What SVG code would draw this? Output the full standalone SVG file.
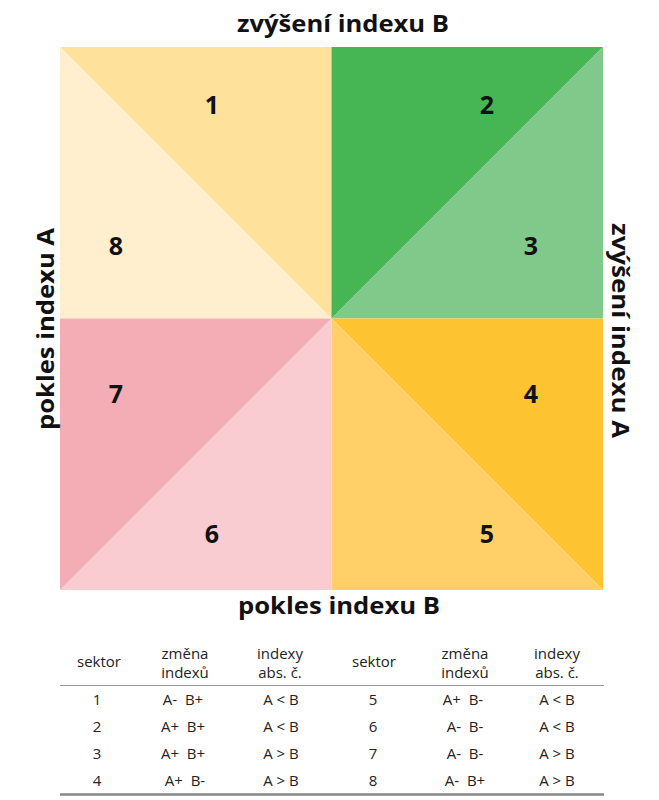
<svg xmlns="http://www.w3.org/2000/svg" width="659" height="800" viewBox="0 0 659 800">
<style>
.title{font-family:"Open Sans","Liberation Sans",sans-serif;font-weight:bold;font-size:24px;fill:#111;text-anchor:middle}
.num{font-family:"Open Sans","Liberation Sans",sans-serif;font-weight:bold;font-size:25px;fill:#111;text-anchor:middle}
.tb{font-family:"Open Sans","Liberation Sans",sans-serif;font-size:15px;fill:#222;text-anchor:middle}
</style>
<rect width="659" height="800" fill="#fff"/>
<g id="sector1"><polygon points="60,47 331.5,47 331.5,318.5" fill="#FEE29B"/><text class="num" x="212" y="114">1</text></g>
<g id="sector8"><polygon points="60,47 60,318.5 331.5,318.5" fill="#FFEFCE"/><text class="num" x="116" y="255">8</text></g>
<g id="sector2"><polygon points="331.5,47 603,47 331.5,318.5" fill="#45B653"/><text class="num" x="487" y="114">2</text></g>
<g id="sector3"><polygon points="603,47 603,318.5 331.5,318.5" fill="#81C98B"/><text class="num" x="531" y="255">3</text></g>
<g id="sector4"><polygon points="331.5,318.5 603,318.5 603,590" fill="#FEC330"/><text class="num" x="531" y="403">4</text></g>
<g id="sector5"><polygon points="331.5,318.5 331.5,590 603,590" fill="#FFD068"/><text class="num" x="487" y="543">5</text></g>
<g id="sector6"><polygon points="331.5,318.5 331.5,590 60,590" fill="#F8CCD0"/><text class="num" x="212" y="543">6</text></g>
<g id="sector7"><polygon points="60,318.5 331.5,318.5 60,590" fill="#F4ADB5"/><text class="num" x="116" y="403">7</text></g>
<g id="titles">
<text class="title" x="343" y="32" textLength="212" lengthAdjust="spacingAndGlyphs">zvýšení indexu B</text>
<text class="title" x="339" y="614" textLength="202" lengthAdjust="spacingAndGlyphs">pokles indexu B</text>
<text class="title" transform="translate(54,329) rotate(-90)" x="0" y="0" textLength="202" lengthAdjust="spacingAndGlyphs">pokles indexu A</text>
<text class="title" transform="translate(612,330.5) rotate(90)" x="0" y="0" textLength="215" lengthAdjust="spacingAndGlyphs">zvýšení indexu A</text>
</g>
<g id="table">
<line x1="60" y1="685.5" x2="604" y2="685.5" stroke="#999" stroke-width="1.2"/>
<line x1="60" y1="794.5" x2="604" y2="794.5" stroke="#888" stroke-width="2.5"/>
<text class="tb" x="99" y="667">sektor</text>
<text class="tb" x="185" y="659">změna</text>
<text class="tb" x="185" y="678">indexů</text>
<text class="tb" x="280" y="659">indexy</text>
<text class="tb" x="280" y="678">abs. č.</text>
<text class="tb" x="374" y="667">sektor</text>
<text class="tb" x="465" y="659">změna</text>
<text class="tb" x="465" y="678">indexů</text>
<text class="tb" x="557" y="659">indexy</text>
<text class="tb" x="557" y="678">abs. č.</text>

<text class="tb" x="97" y="705">1</text><text class="tb" x="183" y="705" xml:space="preserve">A-  B+</text><text class="tb" x="281" y="705">A &lt; B</text>
<text class="tb" x="97" y="732">2</text><text class="tb" x="183" y="732" xml:space="preserve">A+  B+</text><text class="tb" x="281" y="732">A &lt; B</text>
<text class="tb" x="97" y="759">3</text><text class="tb" x="183" y="759" xml:space="preserve">A+  B+</text><text class="tb" x="281" y="759">A &gt; B</text>
<text class="tb" x="97" y="786">4</text><text class="tb" x="185" y="786" xml:space="preserve">A+  B-</text><text class="tb" x="281" y="786">A &gt; B</text>

<text class="tb" x="373" y="705">5</text><text class="tb" x="463" y="705" xml:space="preserve">A+  B-</text><text class="tb" x="557" y="705">A &lt; B</text>
<text class="tb" x="373" y="732">6</text><text class="tb" x="465" y="732" xml:space="preserve">A-  B-</text><text class="tb" x="557" y="732">A &lt; B</text>
<text class="tb" x="373" y="759">7</text><text class="tb" x="465" y="759" xml:space="preserve">A-  B-</text><text class="tb" x="557" y="759">A &gt; B</text>
<text class="tb" x="373" y="786">8</text><text class="tb" x="465" y="786" xml:space="preserve">A-  B+</text><text class="tb" x="557" y="786">A &gt; B</text>
</g>
</svg>
